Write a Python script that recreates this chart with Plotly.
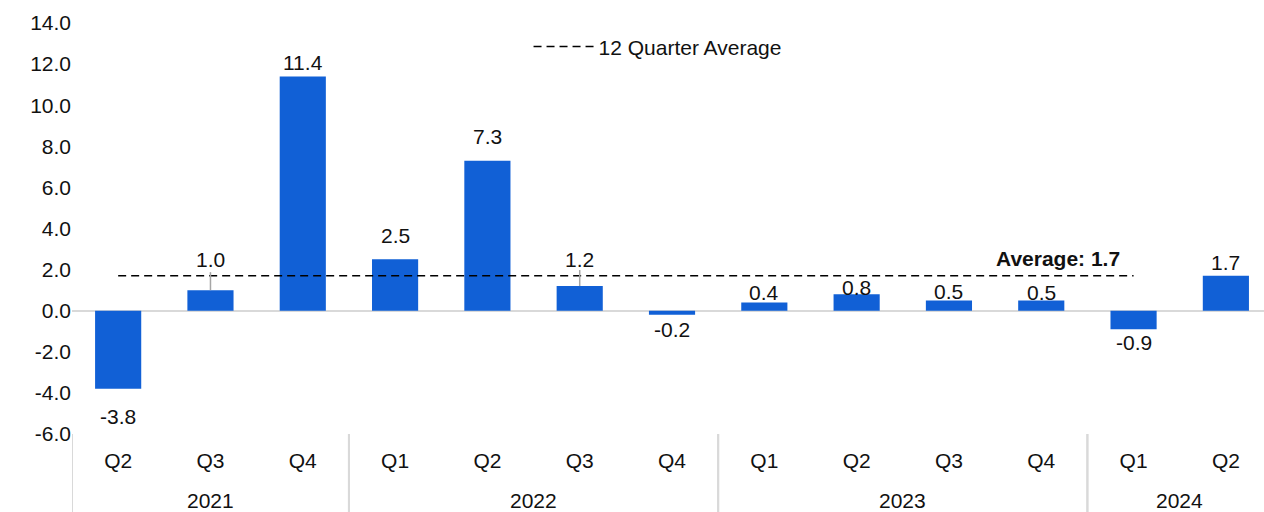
import plotly.graph_objects as go

# ---- data ----
years = ["2021", "2021", "2021", "2022", "2022", "2022", "2022",
         "2023", "2023", "2023", "2023", "2024", "2024"]
quarters = ["Q2", "Q3", "Q4", "Q1", "Q2", "Q3", "Q4",
            "Q1", "Q2", "Q3", "Q4", "Q1", "Q2"]
values = [-3.8, 1.0, 11.4, 2.5, 7.3, 1.2, -0.2, 0.4, 0.8, 0.5, 0.5, -0.9, 1.7]
average_value = 1.7
average_span = 12            # the average covers the first 12 quarters
y_ticks = [-6, -4, -2, 0, 2, 4, 6, 8, 10, 12, 14]

# ---- style / layout offsets (pixels) ----
FONT = "Liberation Sans, Arial, sans-serif"
FS = 21
TEXT = "#111111"
BAR_COLOR = "#1160D6"
GRID = "#D9D9D9"
label_shift = [-28, 31, 14, 24, 24, 27, -15, 10, 7, 9, 8, -13, 13]
leader_len = {1: 18, 5: 16}   # index -> leader line length in px

pos = list(range(len(values)))

fig = go.Figure()
fig.add_trace(go.Bar(
    x=pos, y=values,
    marker=dict(color=BAR_COLOR, line=dict(width=0)),
    showlegend=False, hoverinfo="y",
))
fig.add_trace(go.Scatter(
    x=pos[:average_span],
    y=[average_value] * average_span,
    mode="lines", name="12 Quarter Average",
    line=dict(color="#000000", width=1.5, dash="8px,5px"),
))

annotations = []
for i, v in enumerate(values):
    annotations.append(dict(
        x=i, y=v, xref="x", yref="y", text=f"{v:.1f}", showarrow=False,
        yanchor="middle", yshift=label_shift[i],
        font=dict(family=FONT, size=FS, color=TEXT),
    ))
annotations.append(dict(
    x=average_span - 1, y=average_value, xref="x", yref="y",
    text=f"<b>Average: {average_value:.1f}</b>", showarrow=False,
    xanchor="right", yanchor="middle", xshift=-12, yshift=17,
    font=dict(family=FONT, size=FS, color=TEXT),
))

shapes = []
for i, length in leader_len.items():
    shapes.append(dict(
        type="line", xref="x", yref="y", x0=i, x1=i,
        ysizemode="pixel", yanchor=values[i], y0=0, y1=length,
        line=dict(color="#A6A6A6", width=1.5),
    ))

# year groups: labels centred under each group, dividers at group boundaries
groups = []
for i, y in enumerate(years):
    if not groups or groups[-1][0] != y:
        groups.append([y, i, i])
    else:
        groups[-1][2] = i
for y, start, end in groups:
    annotations.append(dict(
        x=(start + end) / 2, y=0, xref="x", yref="paper", text=y,
        showarrow=False, yanchor="middle", yshift=-66,
        font=dict(family=FONT, size=FS, color=TEXT),
    ))
    for b in (start - 0.5, end + 0.5):
        shapes.append(dict(
            type="line", xref="x", yref="paper", x0=b, x1=b, y0=0, y1=-0.2,
            line=dict(color=GRID, width=2),
        ))

fig.update_layout(
    width=1264, height=512,
    margin=dict(l=72, r=0, t=23, b=78),
    paper_bgcolor="white", plot_bgcolor="white",
    font=dict(family=FONT, size=FS, color=TEXT),
    bargap=0.5,
    annotations=annotations, shapes=shapes,
    legend=dict(orientation="h", x=0.383, y=0.942, xanchor="left", yanchor="middle",
                bgcolor="rgba(0,0,0,0)", font=dict(size=FS), itemwidth=60),
)
fig.update_xaxes(
    range=[-0.5, 12.413], tickvals=pos, ticktext=quarters,
    showgrid=False, showline=False, ticks="", zeroline=False,
    ticklabelstandoff=12,
    tickfont=dict(size=FS, color=TEXT),
)
fig.update_yaxes(
    range=[-6, 14], tickvals=y_ticks, ticktext=[f"{t:.1f}" for t in y_ticks],
    showgrid=False, showline=False, ticks="",
    zeroline=True, zerolinecolor=GRID, zerolinewidth=2,
    tickfont=dict(size=FS, color=TEXT),
)

fig.write_html("out.html")
